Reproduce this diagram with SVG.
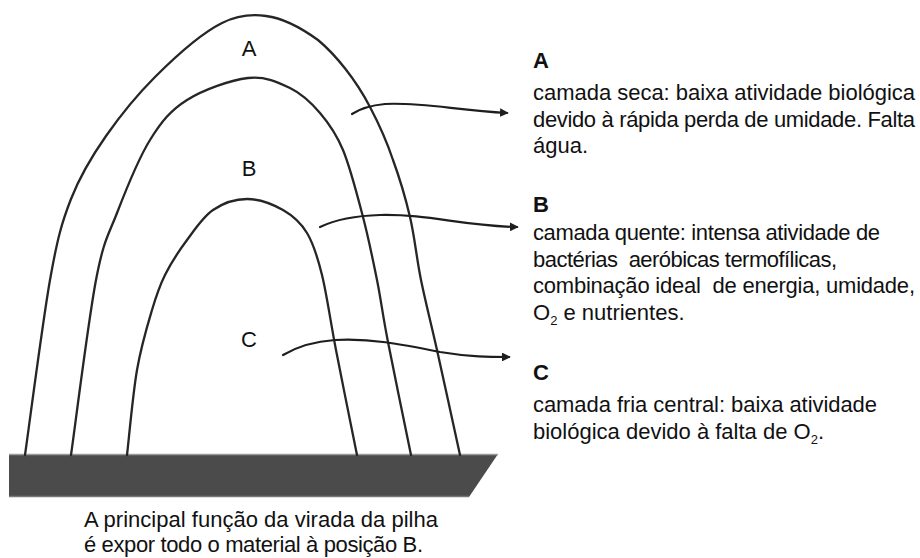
<svg xmlns="http://www.w3.org/2000/svg" width="920" height="558" viewBox="0 0 920 558">
<defs>
<style>
.arch{fill:none;stroke:#262626;stroke-width:2.3;stroke-linecap:round}
.conn{fill:none;stroke:#1e1e1e;stroke-width:2.2;stroke-linecap:round}
.t{font-family:"Liberation Sans",Arial,sans-serif;font-size:22px;fill:#111}
.h{font-family:"Liberation Sans",Arial,sans-serif;font-size:22px;font-weight:bold;fill:#111}
.sub{font-size:13px}
</style>
<marker id="ah" viewBox="0 0 10 10" refX="8" refY="5" markerWidth="4" markerHeight="4" orient="auto" markerUnits="strokeWidth">
<path d="M0,0 L10,5 L0,10 Z" fill="#1e1e1e"/>
</marker>
</defs>
<rect width="920" height="558" fill="#ffffff"/>

<g id="ground">
<polygon points="9,454 498,454 469,497 9,497" fill="#4b4b4b"/>
<line x1="9" y1="454.5" x2="498" y2="454.5" stroke="#9c9c9c" stroke-width="1.5"/>
<line x1="9" y1="496.5" x2="469" y2="496.5" stroke="#777" stroke-width="1.5"/>
</g>

<g id="pile">
<path id="arch-outer" class="arch" d="M25,455 C29.2,425.8 42.5,322.5 50,280 C57.5,237.5 62,222 71,199 C80,176 92,156 106,136 C120,116 136,96 155,77 C174,58 200,34 222,23 C236,16 252,14 266,16 C282,18 300,27 318,40 C336,55 356,80 370,107 C380,126 387,142 393,160 C399.7,178.3 405.3,197 410,217 C414.7,237 416.5,257.8 421,280 C425.5,302.2 430.5,320.8 437,350 C443.5,379.2 456.2,437.5 460,455"/>
<path id="arch-middle" class="arch" d="M71,455 C75.2,425.8 88.3,320.3 96,280 C103.7,239.7 108,236.3 117,213 C126,189.7 138.3,158.8 150,140 C161.7,121.2 170.7,110.3 187,100 C203.3,89.7 230.8,80 248,78 C265.2,76 278,82.2 290,88 C302,93.8 311.2,102.7 320,113 C328.8,123.3 335.8,132.7 343,150 C350.2,167.3 357.3,195.3 363,217 C368.7,238.7 372.8,259.2 377,280 C381.2,300.8 382.3,312.8 388,342 C393.7,371.2 407.2,436.2 411,455"/>
<path id="arch-inner" class="arch" d="M127,455 C128.7,440.8 132.8,394.2 137,370 C141.2,345.8 147.3,325.8 152,310 C156.7,294.2 159.2,286.7 165,275 C170.8,263.3 179,250.8 187,240 C195,229.2 203,216.8 213,210 C223,203.2 235.3,199 247,199 C258.7,199 273,204.3 283,210 C293,215.7 300.5,222.2 307,233 C313.5,243.8 317.2,255.5 322,275 C326.8,294.5 330.2,320 336,350 C341.8,380 353.5,437.5 357,455"/>
<text class="t" x="249" y="56" text-anchor="middle">A</text>
<text class="t" x="249" y="176" text-anchor="middle">B</text>
<text class="t" x="249" y="347" text-anchor="middle">C</text>
</g>

<g id="connectors">
<path id="arrow-A" class="conn" marker-end="url(#ah)" d="M352,114 Q364,106 385,104 C420,102 455,110 507,113"/>
<path id="arrow-B" class="conn" marker-end="url(#ah)" d="M320,227 Q343,216 380,215 C430,214 462,226 517,227"/>
<path id="arrow-C" class="conn" marker-end="url(#ah)" d="M283,355 Q305,342 335,340 C370,338 400,344 440,352 C470,357 490,357 509,357"/>
</g>

<g id="node-A">
<text class="h" x="533" y="68">A</text>
<text class="t" x="533" y="100" textLength="382" lengthAdjust="spacing">camada seca: baixa atividade biológica</text>
<text class="t" x="533" y="127" textLength="382" lengthAdjust="spacing">devido à rápida perda de umidade. Falta</text>
<text class="t" x="533" y="153">água.</text>
</g>

<g id="node-B">
<text class="h" x="533" y="212">B</text>
<text class="t" x="533" y="240" textLength="347" lengthAdjust="spacing">camada quente: intensa atividade de</text>
<text class="t" x="533" y="267" textLength="304" lengthAdjust="spacing" xml:space="preserve">bactérias  aeróbicas termofílicas,</text>
<text class="t" x="533" y="293" textLength="382" lengthAdjust="spacing" xml:space="preserve">combinação ideal  de energia, umidade,</text>
<text class="t" x="533" y="320">O<tspan class="sub" dy="5">2</tspan><tspan dy="-5"> e nutrientes.</tspan></text>
</g>

<g id="node-C">
<text class="h" x="533" y="380">C</text>
<text class="t" x="533" y="412" textLength="344" lengthAdjust="spacing">camada fria central: baixa atividade</text>
<text class="t" x="533" y="439">biológica devido à falta de O<tspan class="sub" dy="5">2</tspan><tspan dy="-5">.</tspan></text>
</g>

<g id="caption">
<text class="t" x="84" y="527" textLength="354" lengthAdjust="spacing">A principal função da virada da pilha</text>
<text class="t" x="84" y="552" textLength="339" lengthAdjust="spacing">é expor todo o material à posição B.</text>
</g>
</svg>
